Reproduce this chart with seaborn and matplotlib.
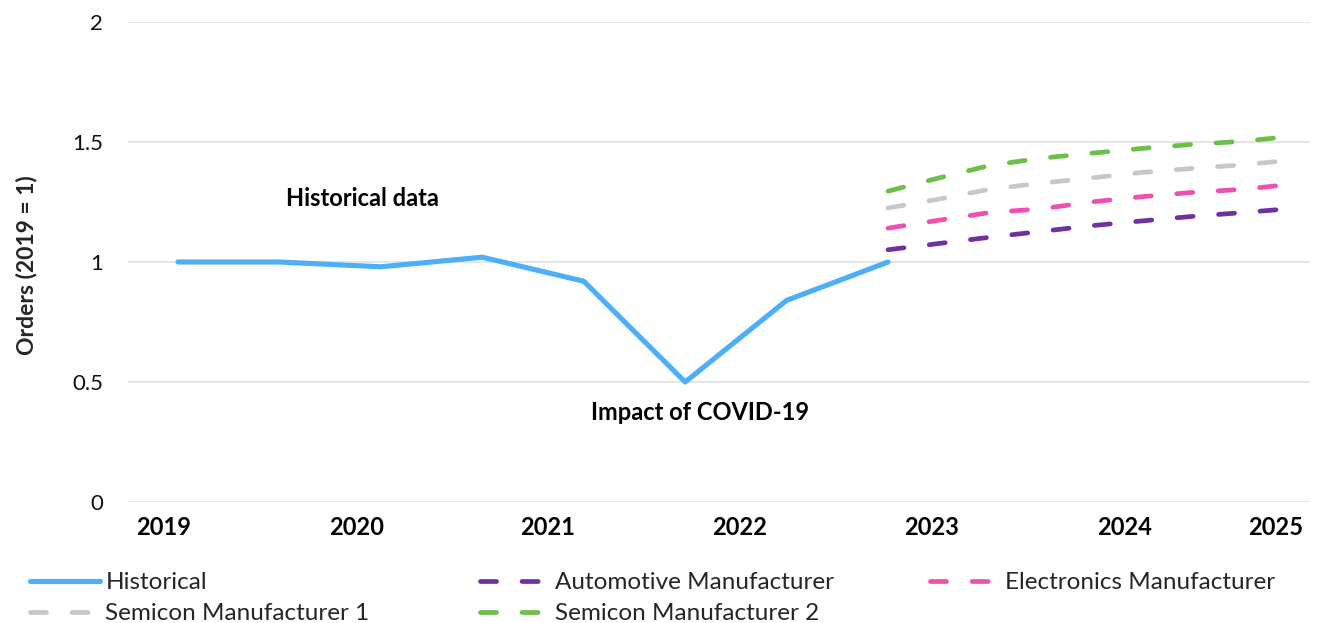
import matplotlib
matplotlib.use("Agg")
import matplotlib.pyplot as plt
from matplotlib.lines import Line2D
import numpy as np
import pandas as pd
import seaborn as sns

# ---- data -------------------------------------------------------------
# half-year periods of recorded orders (index 0 = start of 2019)
hist_period = [0, 1, 2, 3, 4, 5, 6, 7]
hist_orders = [1.00, 1.00, 0.98, 1.02, 0.92, 0.50, 0.84, 1.00]

# forecast periods and outlook per customer group
fc_period = [7.0, 7.5, 8.0, 8.5, 9.0, 9.5, 10.0, 10.5, 10.87]
automotive = [1.051, 1.077, 1.103, 1.127, 1.151, 1.171, 1.190, 1.206, 1.219]
electronics = [1.141, 1.174, 1.206, 1.221, 1.250, 1.272, 1.290, 1.303, 1.319]
semicon_1 = [1.225, 1.262, 1.303, 1.328, 1.350, 1.373, 1.390, 1.405, 1.420]
semicon_2 = [1.295, 1.350, 1.402, 1.432, 1.453, 1.473, 1.490, 1.503, 1.519]

year_labels = ["2019", "2020", "2021", "2022", "2023", "2024", "2025"]
y_ticks = [0, 0.5, 1, 1.5, 2]
y_tick_labels = ["0", "0.5", "1", "1.5", "2"]

# ---- style ------------------------------------------------------------
sns.set_theme(style="white")
plt.rcParams["font.family"] = ["Lato", "DejaVu Sans"]

C_HIST = "#4DAEFA"
C_AUTO = "#7030A0"
C_ELEC = "#EE4FB0"
C_SEM1 = "#C8C8C8"
C_SEM2 = "#6CBF48"
DASH = (0, (3.4, 5.4))

W, H = 1327, 623
fig = plt.figure(figsize=(W / 100, H / 100), dpi=100)
ax = fig.add_axes([128 / W, 1 - 502 / H, (1310 - 128) / W, 480 / H])

# ---- lines ------------------------------------------------------------
hist_df = pd.DataFrame({"period": hist_period, "orders": hist_orders})
sns.lineplot(data=hist_df, x="period", y="orders", ax=ax, color=C_HIST,
             linewidth=3.7, sort=False, solid_capstyle="round",
             solid_joinstyle="round")

fc_df = pd.DataFrame({
    "period": fc_period * 4,
    "orders": automotive + electronics + semicon_1 + semicon_2,
    "group": (["Automotive Manufacturer"] * len(fc_period)
              + ["Electronics Manufacturer"] * len(fc_period)
              + ["Semicon Manufacturer 1"] * len(fc_period)
              + ["Semicon Manufacturer 2"] * len(fc_period)),
})
fc_colors = {
    "Automotive Manufacturer": C_AUTO,
    "Electronics Manufacturer": C_ELEC,
    "Semicon Manufacturer 1": C_SEM1,
    "Semicon Manufacturer 2": C_SEM2,
}
for name, color in fc_colors.items():
    sub = fc_df[fc_df["group"] == name]
    sns.lineplot(data=sub, x="period", y="orders", ax=ax, color=color,
                 linewidth=3.4, sort=False, linestyle=DASH,
                 dash_capstyle="round")

# ---- axes -------------------------------------------------------------
px_to_period = lambda px: (px - 178) / 101.43
ax.set_xlim(px_to_period(128), px_to_period(1310))
ax.set_ylim(0, 2)
ax.set_yticks(y_ticks)
ax.set_yticklabels(y_tick_labels)
ax.set_xticks([px_to_period(p) for p in (164, 357, 548, 740, 932, 1125, 1276)])
ax.set_xticklabels(year_labels, fontweight="bold")
ax.tick_params(axis="y", length=0, pad=18, labelsize=16, labelcolor="#111111")
ax.tick_params(axis="x", length=0, pad=10, labelsize=17, labelcolor="black")
ax.grid(axis="y", color="#E3E3E3", linewidth=1.3)
ax.set_axisbelow(True)
for s in ax.spines.values():
    s.set_visible(False)
ax.set_xlabel("")
ax.set_ylabel("")

fig.text(27 / W, 1 - 265 / H, "Orders (2019 = 1)", rotation=90,
         ha="center", va="center", fontsize=16.5, fontweight="bold")

ax.text(px_to_period(362), (502 - 199) / 240, "Historical data",
        ha="center", va="center", fontsize=17, fontweight="bold",
        color="black")
ax.text(px_to_period(700), (502 - 412) / 240, "Impact of COVID-19",
        ha="center", va="center", fontsize=17, fontweight="bold",
        color="black")

# ---- legend (three columns, filled row by row) ------------------------
def solid(c):
    return Line2D([], [], color=c, linewidth=3.7, solid_capstyle="round")

def dashed(c):
    return Line2D([], [], color=c, linewidth=3.4, linestyle=DASH,
                  dash_capstyle="round")

columns = [
    (30, [solid(C_HIST), dashed(C_SEM1)], ["Historical", "Semicon Manufacturer 1"]),
    (480, [dashed(C_AUTO), dashed(C_SEM2)], ["Automotive Manufacturer", "Semicon Manufacturer 2"]),
    (930, [dashed(C_ELEC)], ["Electronics Manufacturer"]),
]
for x0, hs, ls in columns:
    fig.legend(hs, ls, loc="upper left", bbox_to_anchor=(x0 / W, 1 - 572 / H),
               frameon=False, fontsize=17.5, handlelength=2.9,
               handletextpad=0.2, borderpad=0, borderaxespad=0,
               labelspacing=0.42)

fig.savefig("out.png", dpi=100)
